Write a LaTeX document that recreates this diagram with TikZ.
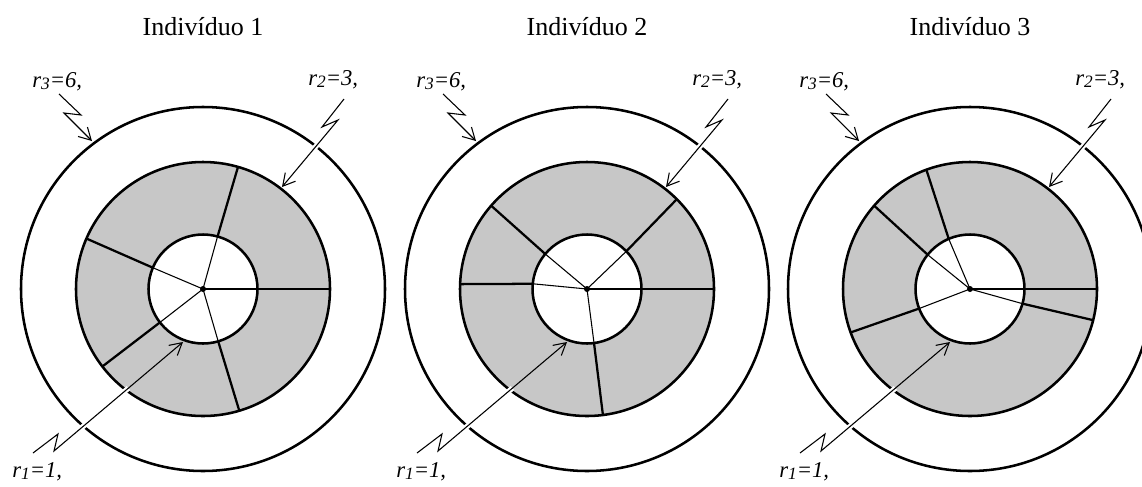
\documentclass[tikz,border=0pt]{standalone}
\usepackage{fontspec}
\setmainfont{Liberation Serif}
\usetikzlibrary{arrows.meta,calc}
\tikzset{
  ringline/.style={line width=1.9pt},
  thickdiv/.style={line width=1.7pt},
  thindiv/.style={line width=0.8pt},
  annfill/.style={fill=black!22},
  bolt/.style={line width=0.8pt, line join=miter, -{Straight Barb[length=9pt,width=10pt]}},
  haloline/.style={draw=white, line width=4pt},
  ttl/.style={font=\fontsize{19.5}{22}\selectfont, anchor=base, inner sep=0pt},
  rlabel/.style={font=\fontsize{17}{19}\selectfont\itshape, anchor=base west, inner sep=0pt},
}
\newcommand\rsub[1]{\raisebox{-1.5pt}{\fontsize{13}{13}\selectfont #1}}
\newcommand\drawpanel[3]{%
\begin{scope}[shift={(#2,-289)}]
  \fill[annfill, even odd rule] (0,0) circle[radius=127] (0,0) circle[radius=54.5];
  \foreach \ai/\ao in {#3} {
    \draw[thickdiv] (\ai:54.5) -- (\ao:127);
    \draw[thindiv] (0,0) -- (\ai:54.5);
  }
  \draw[ringline] (0,0) circle[radius=54.5];
  \draw[ringline] (0,0) circle[radius=127];
  \draw[ringline] (0,0) circle[radius=182];
  % bolt coordinates
  \coordinate (a#1) at (-144,195);
  \coordinate (b#1) at (-122,174);
  \coordinate (c#1) at (-139,176);
  \coordinate (d#1) at (-111,148);
  \coordinate (e#1) at (141,190);
  \coordinate (f#1) at (119,162);
  \coordinate (g#1) at (135,169);
  \coordinate (h#1) at (79,102);
  \coordinate (i#1) at (-170,-164);
  \coordinate (j#1) at (-145,-145);
  \coordinate (k#1) at (-149,-162);
  \coordinate (l#1) at (-20,-53);
  % halos where the bolts cross the rings
  \draw[haloline] (g#1) -- ($(g#1)!0.8!(h#1)$);
  \draw[haloline] (k#1) -- ($(k#1)!0.577!(l#1)$);
  % bolts
  \draw[bolt] (a#1) -- (b#1) -- (c#1) -- (d#1);
  \draw[bolt] (e#1) -- (f#1) -- (g#1) -- (h#1);
  \draw[bolt] (i#1) -- (j#1) -- (k#1) -- (l#1);
  \fill (0,0) circle[radius=3];
  \node[ttl] (title#1) at (0,254) {Indivíduo #1};
  \node[rlabel] (rthree#1) at (-171,202) {r\rsub{3}=6,};
  \node[rlabel] (rtwo#1) at (105,204) {r\rsub{2}=3,};
  \node[rlabel] (rone#1) at (-191,-188) {r\rsub{1}=1,};
\end{scope}}
\begin{document}
\begin{tikzpicture}[x=0.75pt,y=0.75pt]
  \useasboundingbox (0,0) rectangle (1142,-486);
  \clip (0,0) rectangle (1142,-486);
  \drawpanel{1}{203}{74.5/74, 0/0, -73.8/-73.4, 217.8/217.6, 157/156.6}
  \drawpanel{2}{587}{43.8/45, 0/0, -82.6/-82.8, 174.5/177.8, 140/139}
  \drawpanel{3}{970}{113/110.1, 141/139, 0/0, -15.6/-14.2, 201/200}
\end{tikzpicture}
\end{document}
